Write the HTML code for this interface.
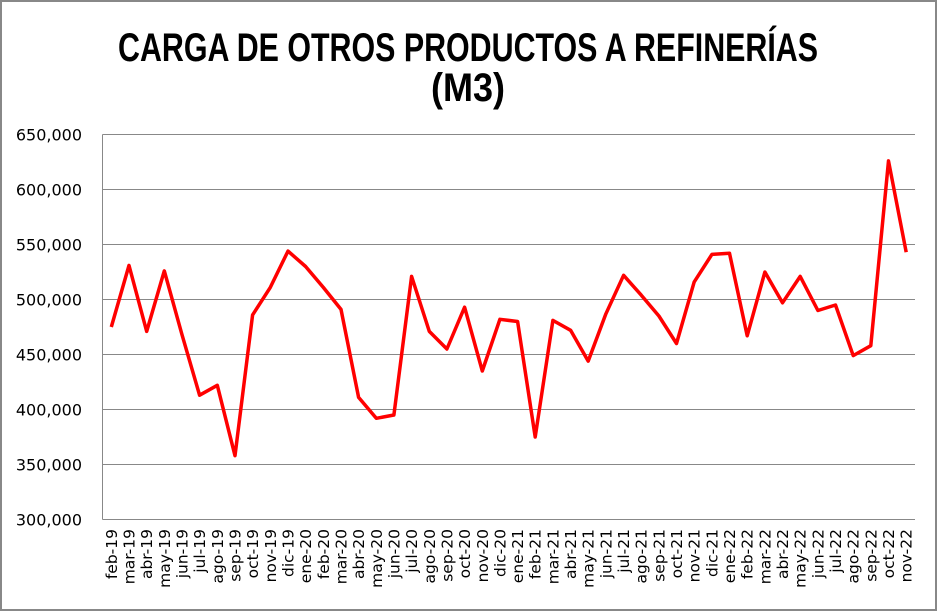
<!DOCTYPE html>
<html><head><meta charset="utf-8"><style>
html,body{margin:0;padding:0;background:#fff}
svg{display:block}
</style></head><body>
<svg id="s" width="938" height="612" xmlns="http://www.w3.org/2000/svg" font-family="'DejaVu Sans','Liberation Sans',sans-serif">
<rect x="1" y="1" width="935" height="609" fill="#fff" stroke="#888" stroke-width="2"/>
<text x="468" y="61" text-anchor="middle" font-family="'Liberation Sans',sans-serif" font-weight="bold" font-size="40" textLength="700" lengthAdjust="spacingAndGlyphs">CARGA DE OTROS PRODUCTOS A REFINERÍAS</text>
<text x="468" y="101" text-anchor="middle" font-family="'Liberation Sans',sans-serif" font-weight="bold" font-size="40" textLength="74" lengthAdjust="spacingAndGlyphs">(M3)</text>
<g id="grid"></g>
<g id="lab"></g>
<polyline id="ln" fill="none" stroke="#ff0000" stroke-width="3.5" stroke-linejoin="round"/>
</svg>
<script>
var ns="http://www.w3.org/2000/svg",g=document.getElementById('grid'),lab=document.getElementById('lab');
function el(t,a,p,txt){var e=document.createElementNS(ns,t);for(var k in a)e.setAttribute(k,a[k]);if(txt)e.textContent=txt;p.appendChild(e);return e;}
var L=102.5,R=915,T=134.5,B=519.5;
for(var i=0;i<=7;i++){var y=T+i*55;el('line',{x1:L,x2:R,y1:y,y2:y,stroke:'#888','stroke-width':1},g);
el('text',{x:82,y:y+6,'text-anchor':'end','font-size':16,fill:'#000'},g,(650-i*50)+',000');}
el('line',{x1:L,x2:L,y1:T,y2:B,stroke:'#888','stroke-width':1},g);
var m=['ene','feb','mar','abr','may','jun','jul','ago','sep','oct','nov','dic'];
var v=[475,531,471,526,468,413,422,358,486,511,544,530,511,491,411,392,395,521,471,455,493,435,482,480,375,481,472,444,487,522,504,485,460,516,541,542,467,525,497,521,490,495,449,458,626,543];
var w=(R-L)/46,pts=[];
for(var i=0;i<46;i++){var mi=(i+1)%12,yr=19+Math.floor((i+1)/12);var x=L+w*(i+0.5);
el('text',{transform:'translate('+(x+5.5)+',529) rotate(-90)','text-anchor':'end','font-size':15.5,fill:'#000'},lab,m[mi]+'-'+yr);
pts.push(x.toFixed(1)+','+(B-(v[i]-300)*1.1).toFixed(1));}
document.getElementById('ln').setAttribute('points',pts.join(' '));
</script>
</body></html>
